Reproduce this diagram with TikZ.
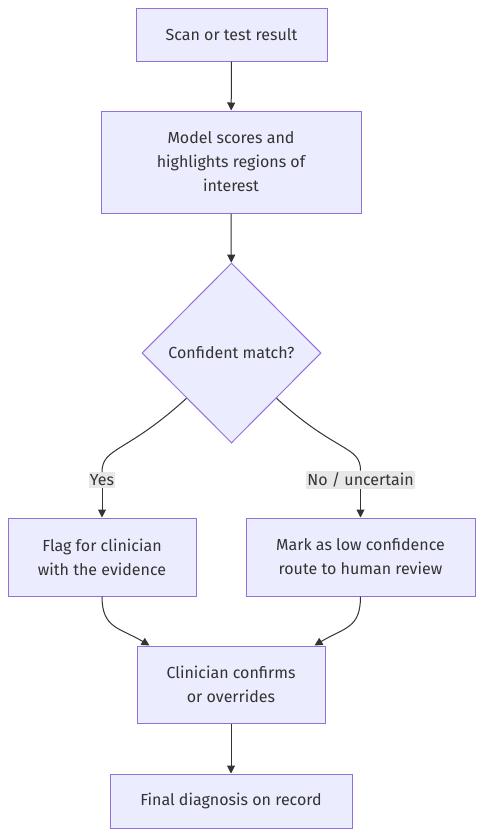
\documentclass[tikz,border=0pt]{standalone}
\usepackage{fontspec}
\setmainfont{Fira Sans}
\usetikzlibrary{positioning, shapes.geometric, calc, arrows.meta}
\definecolor{boxfill}{HTML}{ECECFF}
\definecolor{boxline}{HTML}{9370DB}
\definecolor{edgeline}{HTML}{333333}
\definecolor{labelbg}{HTML}{E8E8E8}
\tikzset{
        flow-box/.style={
            rectangle, draw=boxline, fill=boxfill, line width=1pt,
            text=edgeline, align=center, inner sep=0pt,
            font=\fontsize{16}{24}\selectfont
        },
        flow-decision/.style={
            diamond, draw=boxline, fill=boxfill, line width=1pt,
            text=edgeline, align=center, inner sep=0pt,
            minimum width=179pt, minimum height=180pt,
            font=\fontsize{16}{24}\selectfont
        },
        edge-label/.style={
            fill=labelbg, text=edgeline, inner xsep=1pt, inner ysep=2pt,
            font=\fontsize{16}{20}\selectfont
        },
        flow-arrow/.style={
            draw=edgeline, line width=1pt,
            -{Triangle[length=8pt, width=8pt]}
        },
        flow-line/.style={draw=edgeline, line width=1pt},
}
\begin{document}
\begin{tikzpicture}[x=1pt, y=1pt]

        \useasboundingbox (0,0) rectangle (483,-836);

        % DRAW NODES (at the coordinates of the reference)
        \node[flow-box, minimum width=191pt, minimum height=53pt]  (SCAN)   at (231.5,-34.5) {Scan or test result};
        \node[flow-box, minimum width=260pt, minimum height=102pt] (MODEL)  at (231,-162)    {Model scores and\\highlights regions of\\interest};
        \node[flow-decision]                                        (CONF)   at (231.5,-353)  {Confident match?};
        \node[flow-box, minimum width=188pt, minimum height=78pt]  (FLAG)   at (102,-557)    {Flag for clinician\\with the evidence};
        \node[flow-box, minimum width=229pt, minimum height=78pt]  (MARK)   at (360.5,-557)  {Mark as low confidence\\route to human review};
        \node[flow-box, minimum width=188pt, minimum height=77pt]  (CLIN)   at (231,-684.5)  {Clinician confirms\\or overrides};
        \node[flow-box, minimum width=242pt, minimum height=54pt]  (FINAL)  at (231,-801)    {Final diagnosis on record};

        % EDGE LABELS
        \node[edge-label] (YES)   at (102,-480)   {Yes};
        \node[edge-label] (NOUNC) at (360.5,-480) {No / uncertain};

        % CONNECT TOP PART
        \draw [flow-arrow] (SCAN) -- (MODEL);
        \draw [flow-arrow] (MODEL) -- (CONF);

        % CONNECT DECISION
        \draw [flow-line]  (CONF.south west) .. controls ($(CONF.south west)+(-60,-55)$) and ($(YES.north)+(0,25)$) .. (YES.north);
        \draw [flow-arrow] (YES.south) -- (FLAG.north);
        \draw [flow-line]  (CONF.south east) .. controls ($(CONF.south east)+(60,-55)$) and ($(NOUNC.north)+(0,25)$) .. (NOUNC.north);
        \draw [flow-arrow] (NOUNC.south) -- (MARK.north);

        % CONNECT TO CLINICIAN
        \draw [flow-arrow] (FLAG.south) .. controls ($(FLAG.south)+(0,-32)$) and ($([xshift=13pt]CLIN.north west)+(-30,18)$) .. ([xshift=13pt]CLIN.north west);
        \draw [flow-arrow] (MARK.south) .. controls ($(MARK.south)+(0,-32)$) and ($([xshift=-11pt]CLIN.north east)+(30,18)$) .. ([xshift=-11pt]CLIN.north east);

        % CONNECT FINAL
        \draw [flow-arrow] (CLIN) -- (FINAL);

    \end{tikzpicture}
\end{document}
